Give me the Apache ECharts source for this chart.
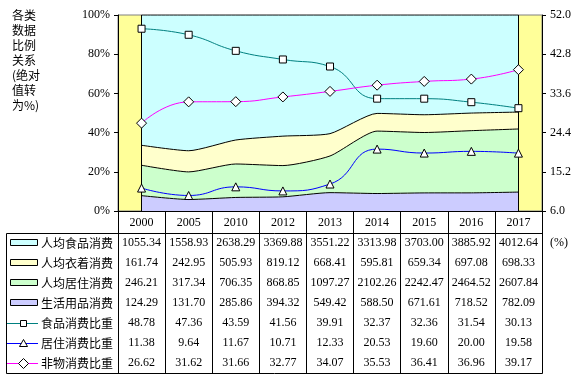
<!DOCTYPE html>
<html><head><meta charset="utf-8">
<script src="https://cdn.jsdelivr.net/npm/echarts@6/dist/echarts.min.js"></script>
<style>html,body{margin:0;padding:0;background:#fff}#c{width:581px;height:379px}</style>
</head><body><div id="c"></div>
<script>
// ---- data ----
const years = ['2000','2005','2010','2012','2013','2014','2015','2016','2017'];
const foodSpend  = [1055.34,1558.93,2638.29,3369.88,3551.22,3313.98,3703.00,3885.92,4012.64];
const clothSpend = [161.74,242.95,505.93,819.12,668.41,595.81,659.34,697.08,698.33];
const houseSpend = [246.21,317.34,706.35,868.85,1097.27,2102.26,2242.47,2464.52,2607.84];
const goodsSpend = [124.29,131.70,285.86,394.32,549.42,588.50,671.61,718.52,782.09];
const foodRatio   = [48.78,47.36,43.59,41.56,39.91,32.37,32.36,31.54,30.13];
const houseRatio  = [11.38,9.64,11.67,10.71,12.33,20.53,19.60,20.00,19.58];
const nonMatRatio = [26.62,31.62,31.66,32.77,34.07,35.53,36.41,36.96,39.17];
const leftTicks  = ['0%','20%','40%','60%','80%','100%'];
const rightTicks = ['6.0','15.2','24.4','33.6','42.8','52.0'];
const rowNames = ['人均食品消费','人均衣着消费','人均居住消费','生活用品消费','食品消费比重','居住消费比重','非物消费比重'];
const titleText = '各类\n数据\n比例\n关系\n(绝对\n值转\n为%)';

// ---- derived ----
const totals = years.map((_, i) => foodSpend[i] + clothSpend[i] + houseSpend[i] + goodsSpend[i]);
const pct = arr => arr.map((v, i) => v / totals[i] * 100);
const lMin = parseFloat(leftTicks[0]), lMax = parseFloat(leftTicks[leftTicks.length-1]);
const rMin = parseFloat(rightTicks[0]), rMax = parseFloat(rightTicks[rightTicks.length-1]);
const rStep = parseFloat(rightTicks[1]) - rMin;

const SERIF = '"Liberation Serif", "Times New Roman", serif';
const CJK = '"Noto Sans CJK SC", sans-serif';
const areaColors = ['#CCFFFF','#FFFFCC','#CCFFCC','#CCCCFF'];
const lineColors = ['#008080','#0000FF','#FF00FF'];

const chart = echarts.init(document.getElementById('c'));
function areaSeries(name, data, color, extra) {
  return Object.assign({
    name, type: 'line', stack: 'pct', data, smooth: 0.2, symbol: 'none',
    lineStyle: { color: '#000', width: 1 },
    areaStyle: { color, opacity: 1 },
    z: 2, silent: true
  }, extra || {});
}
function lineSeries(name, data, color, symbol, size) {
  return {
    name, type: 'line', yAxisIndex: 1, data, smooth: 0.5,
    symbol, symbolSize: size,
    lineStyle: { color, width: 1 },
    itemStyle: { color: '#fff', borderColor: '#000', borderWidth: 1 },
    z: 5, silent: true
  };
}
const option = {
  animation: false,
  grid: { left: 118, right: 39, top: 15, bottom: 168, show: true, backgroundColor: '#FFFF99', borderColor: '#808080', borderWidth: 1 },
  xAxis: {
    type: 'category', data: years, boundaryGap: true,
    axisLine: { show: true, lineStyle: { color: '#000', width: 1 } },
    axisTick: { show: true, interval: 0, length: 162, lineStyle: { color: '#000', width: 1 } },
    axisLabel: { margin: 6, fontFamily: SERIF, fontSize: 12, color: '#000', interval: 0 },
    splitLine: { show: false }
  },
  yAxis: [{
    type: 'value', position: 'left', min: lMin, max: lMax, interval: (lMax - lMin) / (leftTicks.length - 1),
    axisLine: { show: true, lineStyle: { color: '#000' } },
    axisTick: { show: true, length: 4, lineStyle: { color: '#000' } },
    axisLabel: { margin: 8, fontFamily: SERIF, fontSize: 12, color: '#000', formatter: (v) => leftTicks[Math.round((v - lMin) / 20)] },
    splitLine: { show: false }
  }, {
    type: 'value', position: 'right', min: rMin, max: rMax, interval: rStep,
    axisLine: { show: true, lineStyle: { color: '#000' } },
    axisTick: { show: true, length: 4, lineStyle: { color: '#000' } },
    axisLabel: { margin: 8, fontFamily: SERIF, fontSize: 12, color: '#000', formatter: (v) => v.toFixed(1) },
    splitLine: { show: false }
  }],
  series: [
    areaSeries('生活用品消费', pct(goodsSpend), areaColors[3]),
    areaSeries('人均居住消费', pct(houseSpend), areaColors[2]),
    areaSeries('人均衣着消费', pct(clothSpend), areaColors[1]),
    areaSeries('人均食品消费', pct(foodSpend), areaColors[0], {
      markLine: { silent: true, symbol: 'none', label: { show: false },
        lineStyle: { color: '#000', width: 1, type: 'solid' },
        data: [{ xAxis: years[0] }, { xAxis: years[years.length-1] }] }
    }),
    lineSeries('食品消费比重', foodRatio, lineColors[0], 'rect', 7),
    lineSeries('居住消费比重', houseRatio, lineColors[1], 'triangle', 8),
    lineSeries('非物消费比重', nonMatRatio, lineColors[2], 'diamond', 10)
  ]
};
chart.setOption(option);

// ---- data table & annotations (positions derived from grid layout) ----
const rect = chart.getModel().getComponent('grid').coordinateSystem.getRect();
const gBottom = rect.y + rect.height, gRight = rect.x + rect.width;
const tableTop = gBottom + 22, rowH = 20, tableLeft = 6;
const rows = [foodSpend, clothSpend, houseSpend, goodsSpend, foodRatio, houseRatio, nonMatRatio];
const g = [];
g.push({ type: 'text', left: 12, top: 8, style: { text: titleText, font: '12px ' + CJK, lineHeight: 15, fill: '#000' } });
g.push({ type: 'rect', shape: { x: tableLeft + 0.5, y: tableTop + 0.5, width: gRight - tableLeft, height: rowH * rows.length }, style: { fill: 'none', stroke: '#000', lineWidth: 1 }, z: 10 });
rows.forEach((vals, r) => {
  const cy = tableTop + rowH * r + rowH / 2;
  vals.forEach((v, i) => {
    const cx = chart.convertToPixel({ xAxisIndex: 0 }, i);
    g.push({ type: 'text', x: cx, y: cy, style: { text: v.toFixed(2), font: '12px ' + SERIF, fill: '#000', align: 'center', verticalAlign: 'middle' }, z: 10 });
  });
  g.push({ type: 'text', x: 41, y: cy, style: { text: rowNames[r], font: '12px ' + CJK, fill: '#000', align: 'left', verticalAlign: 'middle' }, z: 10 });
  if (r < 4) {
    g.push({ type: 'rect', shape: { x: 10.5, y: Math.round(cy) - 3.5, width: 27, height: 6 }, style: { fill: areaColors[r], stroke: '#000', lineWidth: 1 }, z: 10 });
  } else {
    const col = lineColors[r - 4];
    const ky = Math.round(cy) + 0.5;
    g.push({ type: 'line', shape: { x1: 7, y1: ky, x2: 38, y2: ky }, style: { stroke: col, lineWidth: 1 }, z: 10 });
    const mx = 23.5;
    if (r === 4) g.push({ type: 'rect', shape: { x: mx - 3, y: ky - 3, width: 6, height: 6 }, style: { fill: '#fff', stroke: '#000', lineWidth: 1 }, z: 11 });
    if (r === 5) g.push({ type: 'polygon', shape: { points: [[mx, ky - 4], [mx + 4, ky + 3], [mx - 4, ky + 3]] }, style: { fill: '#fff', stroke: '#000', lineWidth: 1 }, z: 11 });
    if (r === 6) g.push({ type: 'polygon', shape: { points: [[mx, ky - 5], [mx + 5, ky], [mx, ky + 5], [mx - 5, ky]] }, style: { fill: '#fff', stroke: '#000', lineWidth: 1 }, z: 11 });
  }
});
g.push({ type: 'text', x: gRight + 8, y: tableTop + rowH / 2, style: { text: '(%)', font: '12px ' + SERIF, fill: '#000', align: 'left', verticalAlign: 'middle' }, z: 10 });
chart.setOption({ graphic: g });
</script>
</body></html>
